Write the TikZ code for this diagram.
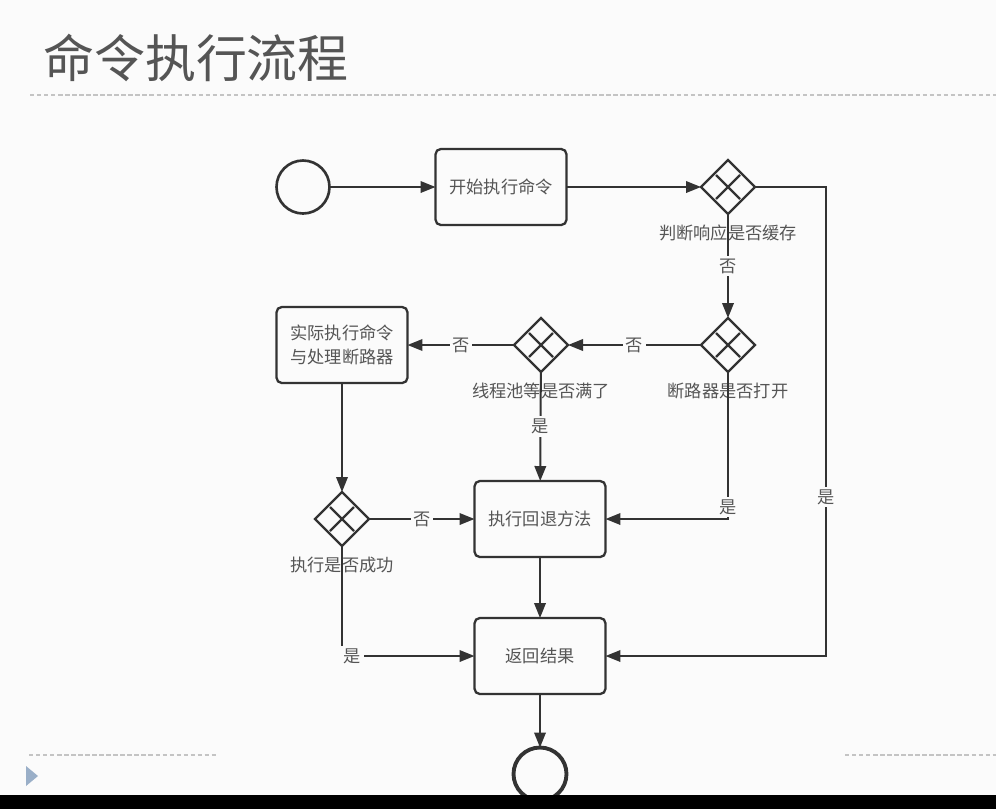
\documentclass[tikz,border=0pt]{standalone}
\usepackage{fontspec}
\newfontfamily\cjk{Noto Sans CJK SC}
\usetikzlibrary{shapes.geometric}
\usetikzlibrary{arrows.meta}
\definecolor{lineGray}{HTML}{333333}
\definecolor{textGray}{HTML}{555555}
\definecolor{titleGray}{HTML}{555555}
\definecolor{paperWhite}{HTML}{FBFBFB}
\definecolor{dashGray}{HTML}{C4C4C4}
\definecolor{slideBlue}{HTML}{9AAFC8}

\begin{document}
\begin{tikzpicture}
[x=0.02cm,y=-0.02cm,
  every node/.style={inner sep=0pt,outer sep=0pt,text=textGray,
    font=\cjk\fontsize{9.8}{13.6}\selectfont},%
  lineDecorate/.style={-{Triangle[length=0.3cm,width=0.23cm]},line width=1.15pt,draw=lineGray},
  taskBox/.style={draw=lineGray,line width=1.3pt,rounded corners=3pt,
    minimum width=2.62cm,minimum height=1.52cm,align=center},
  gateWay/.style={diamond,draw=lineGray,line width=1.3pt,minimum size=1.08cm,
    label={[label distance=0.22cm]below:#1},
    path picture={\draw[line width=1.3pt,lineGray]
      ([shift={(-0.24cm,-0.24cm)}]path picture bounding box.center) --
      ([shift={(0.24cm,0.24cm)}]path picture bounding box.center)
      ([shift={(-0.24cm,0.24cm)}]path picture bounding box.center) --
      ([shift={(0.24cm,-0.24cm)}]path picture bounding box.center);}},
  answerText/.style={fill=paperWhite,inner sep=1.5pt},
  eventCircle/.style={circle,draw=lineGray,line width=1.5pt,minimum size=1.06cm},
  dashLine/.style={dashGray,line width=0.8pt,dash pattern=on 2.5pt off 1.5pt}]
\useasboundingbox (0,0) rectangle (996,809);
\fill[paperWhite] (0,0) rectangle (996,809);
\node[font=\cjk\fontsize{29}{30}\selectfont,text=titleGray] (title) at (196,58) {命令执行流程};
\draw[dashLine] (30,95) -- (996,95);
\draw[dashLine] (29,755) -- (216,755);
\draw[dashLine] (845,755) -- (996,755);
\fill[slideBlue] (26,766) -- (38,776) -- (26,786) -- cycle;

\node[eventCircle] (start) at (303,187) {};
\node[taskBox] (begin) at (501,187) {开始执行命令};
\node[gateWay=判断响应是否缓存] (cacheGate) at (728,187) {};
\node[gateWay=断路器是否打开] (breakerGate) at (728,345) {};
\node[gateWay=线程池等是否满了] (poolGate) at (541,345) {};
\node[taskBox] (execute) at (342,345) {实际执行命令\\与处理断路器};
\node[gateWay=执行是否成功] (successGate) at (342,519) {};
\node[taskBox] (fallback) at (540,519) {执行回退方法};
\node[taskBox] (result) at (540,656) {返回结果};
\node[eventCircle,line width=2.2pt] (stop) at (540,774) {};
\coordinate (cacheRail) at (826,497);

\path
\foreach \startNode/\endNode in {
  start/begin, begin/cacheGate, execute/successGate, fallback/result, result/stop}
{
  (\startNode) edge[lineDecorate] (\endNode)
};
\path
\foreach \startNode/\endNode/\answer in {
  cacheGate/breakerGate/否, breakerGate/poolGate/否, poolGate/execute/否,
  poolGate/fallback/是, successGate/fallback/否}
{
  (\startNode) edge[lineDecorate] node[answerText]{\answer} (\endNode)
};
\draw[lineDecorate] (cacheGate.east) -| (cacheRail) node[answerText]{是} |- (result.east);
\draw[lineDecorate] (breakerGate.south) |- node[answerText,pos=0.46]{是} (fallback.east);
\draw[lineDecorate] (successGate.south) |- node[answerText,pos=0.54]{是} (result.west);

\fill[black] (0,795) rectangle (996,809);
\end{tikzpicture}
\end{document}
